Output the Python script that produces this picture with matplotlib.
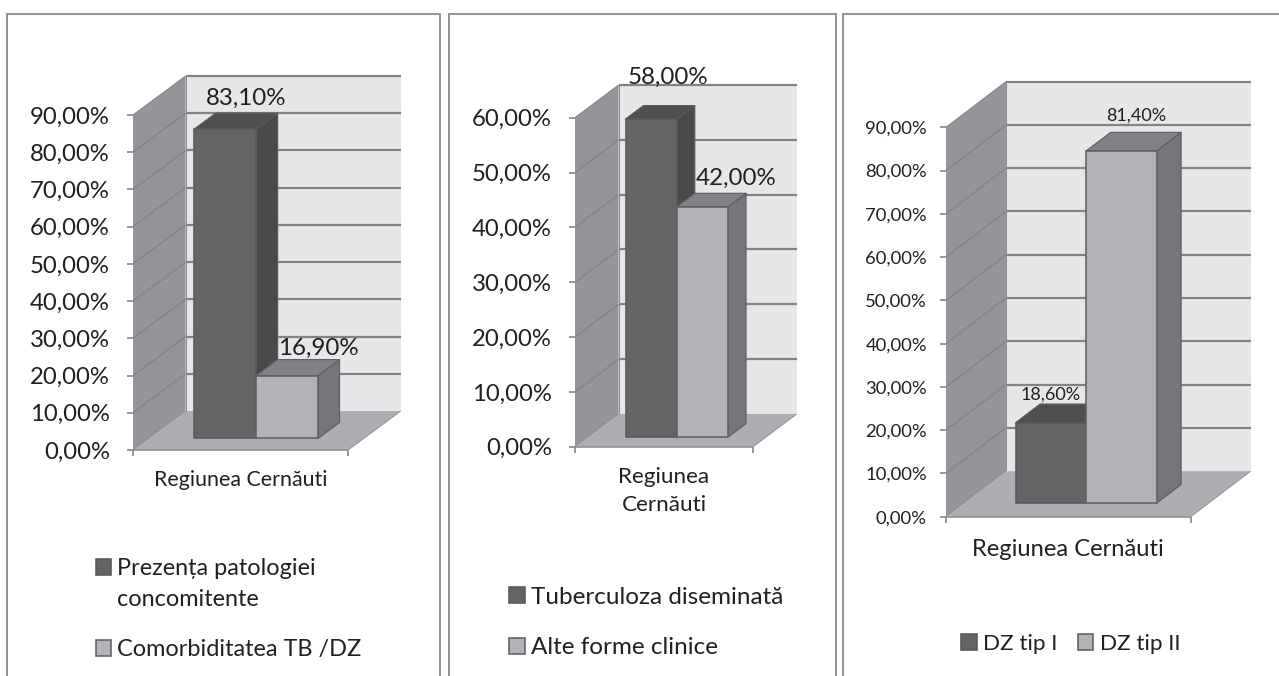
import matplotlib
matplotlib.use("Agg")
import matplotlib.pyplot as plt
from matplotlib.legend_handler import HandlerPatch
from matplotlib.patches import Patch, Polygon, Rectangle
from matplotlib.lines import Line2D

plt.rcParams["font.family"] = ["Lato", "Noto Sans", "DejaVu Sans"]

# Chart values, in percent
category_1 = "Regiunea Cernăuti"
series_1 = ["Prezența patologiei\nconcomitente", "Comorbiditatea TB /DZ"]
values_1 = [83.10, 16.90]
ticks_1 = [0, 10, 20, 30, 40, 50, 60, 70, 80, 90]

category_2 = "Regiunea\nCernăuti"
series_2 = ["Tuberculoza diseminată", "Alte forme clinice"]
values_2 = [58.00, 42.00]
ticks_2 = [0, 10, 20, 30, 40, 50, 60]

category_3 = "Regiunea Cernăuti"
series_3 = ["DZ tip I", "DZ tip II"]
values_3 = [18.60, 81.40]
ticks_3 = [0, 10, 20, 30, 40, 50, 60, 70, 80, 90]

W, H = 1279, 676
PX = 72 / 100  # points per pixel at 100 dpi

INK = "#231f20"
FRAME = "#939598"
GRID = "#808285"
WALL_SIDE = "#939598"
WALL_BACK = "#e6e7e8"
FLOOR = "#adaeb1"
DARK = dict(front="#636466", top="#4f4f51", side="#48494b", edge="#58595b")
LIGHT = dict(front="#b1b3b6", top="#808285", side="#75767a", edge="#5f6062")

# Oblique projection of the fake 3D column chart
GAP = 0.212        # empty share of the floor width on each side of the columns
BAR_D0 = 0.295     # column front, as a share of the floor depth
BAR_D = 0.41       # column thickness, as a share of the floor depth
DEPTH_X = 0.245    # floor depth along x, in axes units

fig = plt.figure(figsize=(W / 100, H / 100), dpi=100, facecolor="white")


def frame(xs, ys):
    fig.add_artist(Line2D([x / W for x in xs], [1 - y / H for y in ys],
                          color=FRAME, lw=2 * PX, solid_capstyle="butt",
                          solid_joinstyle="miter"))


frame([7, 7, 440, 440], [676, 14, 14, 676])
frame([449, 449, 835.5, 835.5], [676, 14, 14, 676])
frame([843, 843, 1279], [676, 14, 14])


def raised_key(shift):
    # Legend key lifted to sit beside the first line of a two-line label
    def make(legend, orig_handle, xdescent, ydescent, width, height, fontsize):
        return Rectangle((-xdescent, -ydescent + shift), width, height)
    return HandlerPatch(patch_func=make)


def panel(values, ticks, category, series, box, depth_px, cfg):
    left, right, y0, ytop = box
    ymax = ticks[-1]
    ax = fig.add_axes([left / W, 1 - y0 / H, (right - left) / W, (y0 - ytop) / H])
    ax.set_xlim(0, 1)
    ax.set_ylim(0, ymax)
    ax.patch.set_visible(False)
    for s in ax.spines.values():
        s.set_visible(False)
    depth_v = depth_px / ((y0 - ytop) / ymax)

    def pt(x, v, d):
        return (x + d * DEPTH_X, v + d * depth_v)

    def poly(points, fc, ec="none", lw=0.0, z=2):
        ax.add_patch(Polygon(points, closed=True, facecolor=fc, edgecolor=ec,
                             linewidth=lw, clip_on=False, zorder=z,
                             joinstyle="round"))

    def seg(a, b, color, lw, z=2.5):
        ax.plot([a[0], b[0]], [a[1], b[1]], color=color, lw=lw, clip_on=False,
                zorder=z, solid_capstyle="butt")

    # Walls and floor
    poly([pt(0, 0, 1), pt(1, 0, 1), pt(1, ymax, 1), pt(0, ymax, 1)], WALL_BACK, z=1)
    poly([pt(0, 0, 0), pt(0, 0, 1), pt(0, ymax, 1), pt(0, ymax, 0)], WALL_SIDE, z=1)
    poly([pt(0, 0, 0), pt(1, 0, 0), pt(1, 0, 1), pt(0, 0, 1)], FLOOR, z=1.5)
    seg(pt(0, 0, 0), pt(1, 0, 0), "#8a8c8f", 1.6 * PX)
    seg(pt(1, 0, 0), pt(1, 0, 1), "#9a9b9e", 1.2 * PX)

    # Gridlines on the back and side walls
    for t in ticks[1:]:
        seg(pt(0, t, 1), pt(1, t, 1), GRID, 2.2 * PX, z=1.2)
        seg(pt(0, t, 0), pt(0, t, 1), "#7f8083", 1.0 * PX, z=1.2)
    seg(pt(0, 0, 0), pt(0, 0, 1), "#7f8083", 1.0 * PX, z=1.4)
    seg(pt(0, 0, 1), pt(0, ymax, 1), "#8a8c8f", 1.0 * PX, z=1.2)

    # Columns
    width = (1 - 2 * GAP) / 2
    for i, (val, st) in enumerate(zip(values, (DARK, LIGHT))):
        x0 = GAP + i * width
        x1 = x0 + width
        d0, d1 = BAR_D0, BAR_D0 + BAR_D
        z = 3 + i
        poly([pt(x1, 0, d0), pt(x1, 0, d1), pt(x1, val, d1), pt(x1, val, d0)],
             st["side"], st["edge"], 1.2 * PX, z)
        poly([pt(x0, val, d0), pt(x1, val, d0), pt(x1, val, d1), pt(x0, val, d1)],
             st["top"], st["edge"], 1.2 * PX, z)
        poly([pt(x0, 0, d0), pt(x1, 0, d0), pt(x1, val, d0), pt(x0, val, d0)],
             st["front"], st["edge"], 1.6 * PX, z)
        off = cfg["label_off"][i]
        ax.annotate(f"{val:.2f}%".replace(".", ","),
                    xy=pt((x0 + x1) / 2, val, d1),
                    xytext=(off[0] * PX, off[1] * PX), textcoords="offset points",
                    ha="center", va="baseline", fontsize=cfg["label_fs"],
                    color=INK, zorder=8, annotation_clip=False)

    # Axis ticks and labels
    ax.set_yticks(ticks)
    ax.set_yticklabels([f"{t},00%" for t in ticks], fontsize=cfg["tick_fs"], color=INK)
    ax.tick_params(axis="y", length=6 * PX, width=1.6 * PX, color=GRID,
                   pad=cfg["tick_pad"] * PX)
    ax.set_xticks([0, 1])
    ax.set_xticklabels(["", ""])
    ax.tick_params(axis="x", which="major", length=6 * PX, width=1.6 * PX, color=GRID)
    ax.set_xticks([0.5], [category], minor=True)
    ax.tick_params(axis="x", which="minor", length=0, labelsize=cfg["cat_fs"],
                   labelcolor=INK, pad=cfg["cat_pad"] * PX)
    for lab in ax.get_xticklabels(minor=True):
        lab.set_linespacing(1.5)

    # Legend
    handles = [Patch(facecolor=st["front"], edgecolor=st["edge"], linewidth=1.6 * PX)
               for st in (DARK, LIGHT)]
    handler_map = {}
    if cfg.get("key_shift"):
        handler_map[handles[0]] = raised_key(cfg["key_shift"] * PX)
    leg = ax.legend(handles, series, loc="upper left", frameon=False,
                    bbox_to_anchor=(cfg["leg_xy"][0] / W, 1 - cfg["leg_xy"][1] / H),
                    bbox_transform=fig.transFigure, borderpad=0, borderaxespad=0,
                    fontsize=cfg["leg_fs"], labelcolor=INK,
                    handlelength=cfg["hl"], handleheight=cfg["hl"],
                    handletextpad=cfg["htp"], labelspacing=cfg["ls"],
                    ncols=cfg["ncols"], columnspacing=cfg["cs"],
                    handler_map=handler_map)
    for t in leg.get_texts():
        t.set_linespacing(1.58)
    return ax


panel(values_1, ticks_1, category_1, series_1, (133, 348, 450, 115), 39,
      dict(label_off=[(-1, 8), (10, 5)], label_fs=17.4, tick_fs=17.2, tick_pad=17,
           cat_fs=15.4, cat_pad=20, leg_xy=(96, 558), leg_fs=16.9, hl=0.66, htp=0.25,
           ls=1.25, ncols=1, cs=1.0, key_shift=17))
panel(values_2, ticks_2, category_2, series_2, (575, 753, 446.7, 117.7), 32.7,
      dict(label_off=[(-1, 22), (16, 9)], label_fs=17.4, tick_fs=17.2, tick_pad=17,
           cat_fs=16.2, cat_pad=20, leg_xy=(509, 587), leg_fs=17.5, hl=0.64, htp=0.25,
           ls=1.2, ncols=1, cs=1.0))
panel(values_3, ticks_3, category_3, series_3, (946, 1190.7, 516.7, 127.3), 45.6,
      dict(label_off=[(-25, 4), (-10, 12)], label_fs=13.0, tick_fs=13.3, tick_pad=13,
           cat_fs=17.1, cat_pad=22, leg_xy=(961, 634), leg_fs=16.2, hl=0.69, htp=0.3,
           ls=0.9, ncols=2, cs=0.9))

fig.savefig("out.png", dpi=100, facecolor="white")
